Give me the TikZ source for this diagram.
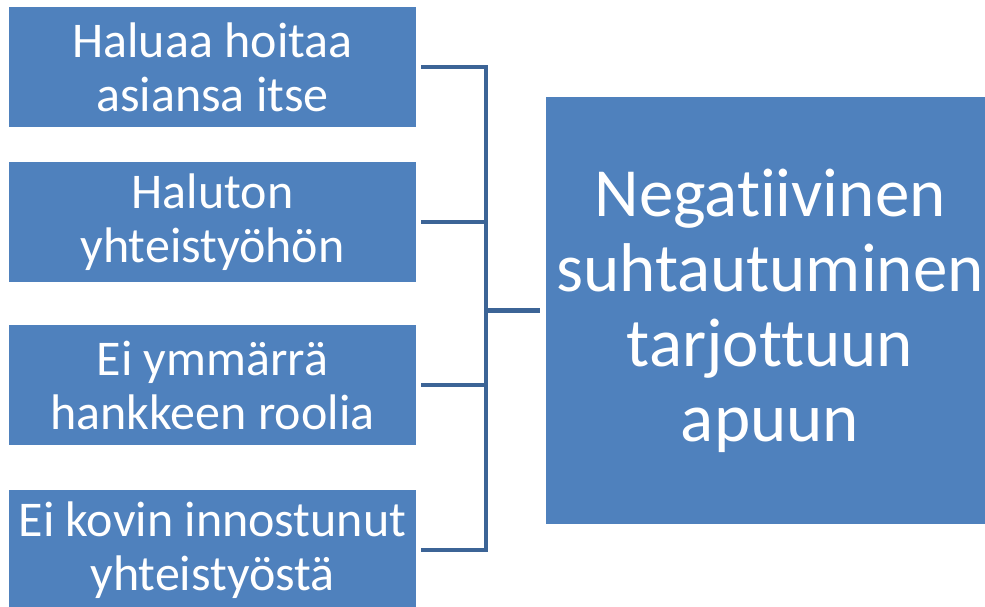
\documentclass[tikz,border=0pt]{standalone}
\usepackage{fontspec}
\setmainfont{Carlito}[RawFeature=-liga]
\definecolor{boxblue}{RGB}{79,129,189}
\definecolor{lineblue}{RGB}{60,100,150}

\begin{document}
\begin{tikzpicture}[x=1pt,y=-1pt]

\tikzset{line/.style={draw=lineblue,line width=4.5pt}}
\tikzset{cause/.style={rectangle,fill=boxblue,text=white,align=center,inner sep=0pt,minimum width=407pt,minimum height=120pt,font=\fontsize{50}{54}\selectfont}}
\tikzset{result/.style={rectangle,fill=boxblue,text=white,align=center,inner sep=0pt,minimum width=448pt,minimum height=427pt,font=\fontsize{69}{75}\selectfont}}

\useasboundingbox (0,0) rectangle (985,607);
\clip (0,0) rectangle (985,607);

\node[cause] (b1) at (212.5, 67) {Haluaa hoitaa\\asiansa itse};
\node[cause] (b2) at (212.5, 222) {Haluton\\yhteistyöhön};
\node[cause] (b3) at (212.5, 385) {Ei ymmärrä\\hankkeen roolia};
\node[cause] (b4) at (212.5, 550) {Ei kovin innostunut\\yhteistyöstä};

\node[result] (neg) at (770, 310.5) {Negatiivinen\\suhtautuminen\\tarjottuun\\apuun};

\coordinate (j1) at (486, 67);
\coordinate (j2) at (486, 222);
\coordinate (j3) at (486, 385);
\coordinate (j4) at (486, 550);
\coordinate (jm) at (486, 310.5);

\path[line,shorten <=5pt,shorten >=5pt] (b1) -- (j1) -- (j4) -- (b4);
\path[line,shorten <=5pt] (b2) -- (j2);
\path[line,shorten <=5pt] (b3) -- (j3);
\path[line,shorten >=6pt] (jm) -- (neg);

\end{tikzpicture}
\end{document}
